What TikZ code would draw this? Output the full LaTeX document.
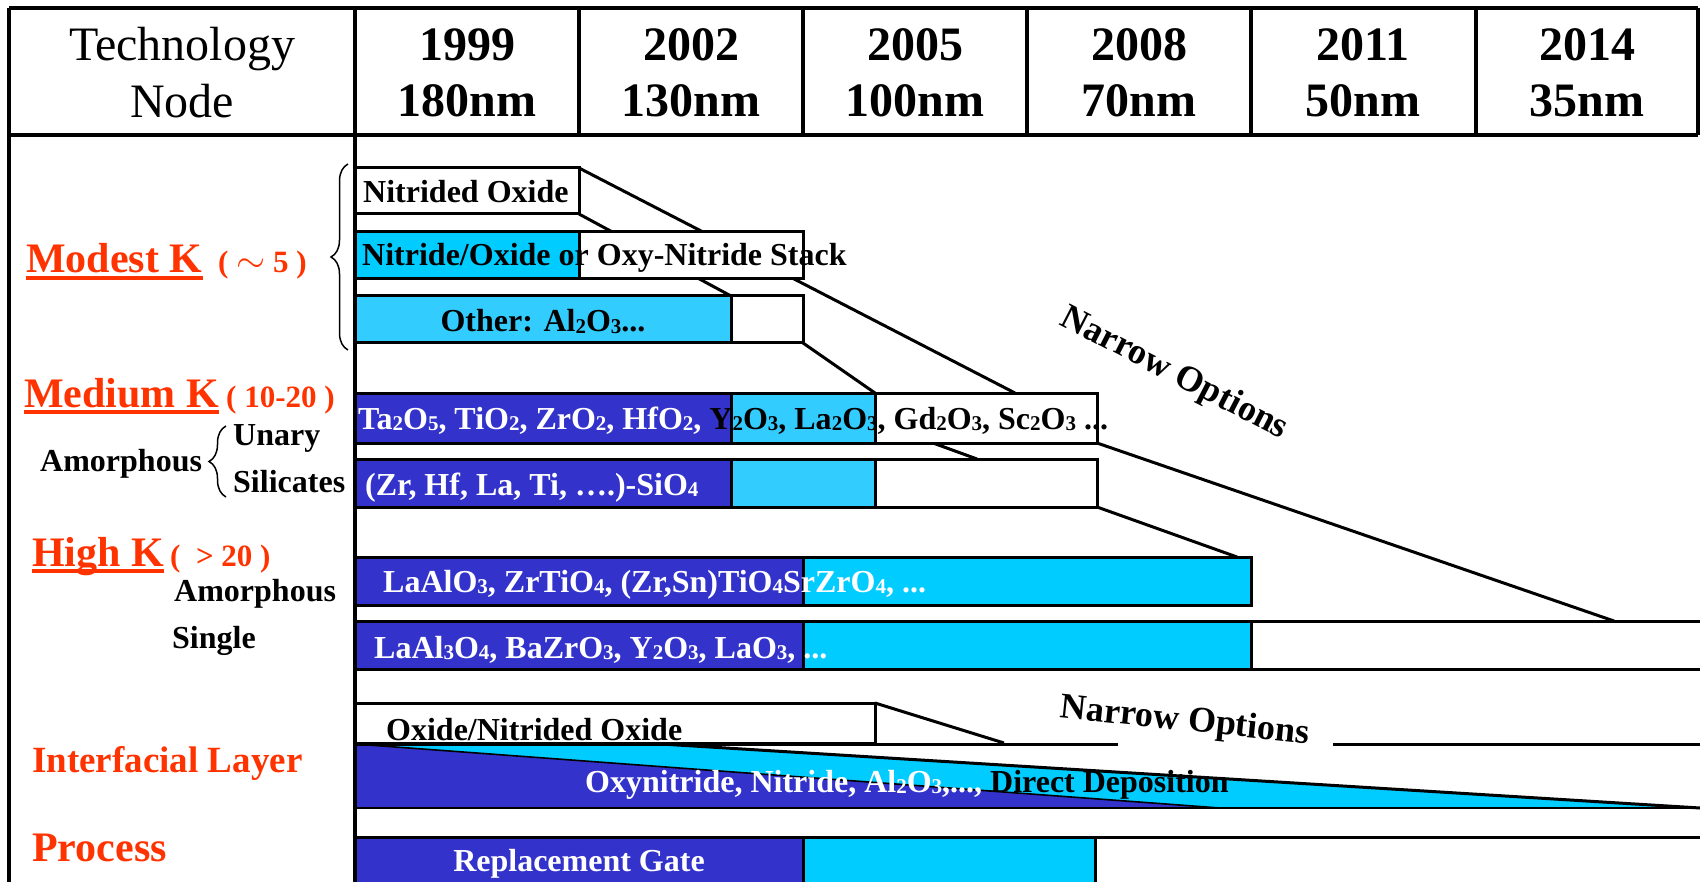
\documentclass[tikz,border=0pt]{standalone}
\usepackage{fontspec}
\setmainfont{Liberation Serif}
\usetikzlibrary{decorations.pathreplacing}
\definecolor{ebl}{RGB}{51,51,204}
\definecolor{ecy}{RGB}{0,204,255}
\definecolor{lcy}{RGB}{51,204,255}
\definecolor{ered}{RGB}{255,51,0}
\newcommand{\fsz}[1]{\fontsize{#1}{#1}\selectfont}
\newcommand{\chs}[1]{\raisebox{-0.06em}{\fontsize{21}{21}\selectfont #1}}
\begin{document}
\begin{tikzpicture}[x=1pt,y=-1pt,
  tl/.style={line width=3.4pt},
  bx/.style={draw=black, line width=3pt},
  fl/.style={line width=3pt},
  hd/.style={inner sep=0pt, anchor=base, font={\fsz{48}}},
  yr/.style={inner sep=0pt, anchor=base, font={\fsz{48}\bfseries}},
  rt/.style={inner sep=0pt, anchor=base west, font={\fsz{32}\bfseries}},
  wt/.style={rt, text=white},
  lbl/.style={inner sep=0pt, anchor=base west, font={\fsz{42}\bfseries}, text=ered},
  prn/.style={inner sep=0pt, anchor=base west, font={\fsz{31}\bfseries}, text=ered},
  nar/.style={inner sep=0pt, font={\fsz{36}\bfseries}},
  ul/.style={ered, line width=4pt},
  brc/.style={line width=1.5pt, decorate, decoration={brace, amplitude=17pt}}]
\useasboundingbox (0,0) rectangle (1700,882);
\fill[white] (0,0) rectangle (1700,882);

% funnel lines (behind boxes)
\draw[fl] (579,168) -- (1015,393);
\draw[fl] (579,214) -- (731,296);
\draw[fl] (803,343) -- (875,393);
\draw[fl] (933,443) -- (977,459);
\draw[fl] (1097,443) -- (1614,621);
\draw[fl] (1097,507) -- (1237,557);
\draw[fl] (875,703) -- (1004,743);

% Modest K rows
\filldraw[bx, fill=white] (355,168) rectangle (579,214);
\filldraw[bx, fill=ecy] (355,232) rectangle (579,279);
\filldraw[bx, fill=white] (579,232) rectangle (803,279);
\filldraw[bx, fill=lcy] (355,296) rectangle (731,343);
\filldraw[bx, fill=white] (731,296) rectangle (803,343);
% Medium K rows
\filldraw[bx, fill=ebl] (355,394) rectangle (731,443);
\filldraw[bx, fill=lcy] (731,394) rectangle (875,443);
\filldraw[bx, fill=white] (875,394) rectangle (1097,443);
\filldraw[bx, fill=ebl] (355,459) rectangle (731,507);
\filldraw[bx, fill=lcy] (731,459) rectangle (875,507);
\filldraw[bx, fill=white] (875,459) rectangle (1097,507);
% High K rows
\filldraw[bx, fill=ebl] (355,557) rectangle (803,605);
\filldraw[bx, fill=ecy] (803,557) rectangle (1251,605);
\filldraw[bx, fill=ebl] (355,621) rectangle (803,669);
\filldraw[bx, fill=ecy] (803,621) rectangle (1251,669);
\filldraw[bx, fill=white] (1251,621) rectangle (1712,669);
% Interfacial layer
\filldraw[bx, fill=white] (355,703) rectangle (875,743);
\fill[ecy] (355,744) -- (661,744) -- (1700,808) -- (1220,808) -- cycle;
\fill[ebl] (355,744) -- (1220,808) -- (355,808) -- cycle;
\draw[line width=1.6pt] (355,744) -- (1220,808);
\draw[line width=3pt] (661,744) -- (1700,808);
\draw[line width=1.6pt] (355,808) -- (1700,808);
\draw[line width=3pt] (355,744) -- (1118,744);
\draw[line width=3pt] (1333,744) -- (1700,744);
% Process
\draw[line width=3pt] (355,837) -- (1700,837);
\filldraw[bx, fill=ebl] (355,837) rectangle (803,895);
\filldraw[bx, fill=ecy] (803,837) rectangle (1095,895);

% table frame
\draw[tl] (9,8) -- (1698,8);
\draw[tl] (9,8) -- (9,890);
\draw[tl] (355,8) -- (355,890);
\draw[tl] (9,135) -- (1698,135);
\draw[tl] (1698,8) -- (1698,135);
\foreach \xx in {579,803,1027,1251,1476} {\draw[tl] (\xx,8) -- (\xx,135);}

% header text
\node[hd] (tech) at (182,61) {Technology};
\node[hd] (node) at (182,118) {Node};
\node[yr] (y1) at (467,61) {1999};     \node[yr] (n1) at (467,117) {180nm};
\node[yr] (y2) at (691,61) {2002};     \node[yr] (n2) at (691,117) {130nm};
\node[yr] (y3) at (915,61) {2005};     \node[yr] (n3) at (915,117) {100nm};
\node[yr] (y4) at (1139,61) {2008};    \node[yr] (n4) at (1139,117) {70nm};
\node[yr] (y5) at (1363,61) {2011};    \node[yr] (n5) at (1363,117) {50nm};
\node[yr] (y6) at (1587,61) {2014};    \node[yr] (n6) at (1587,117) {35nm};

% braces
\draw[brc] (348,350) -- (348,164);
\draw[brc] (226,497) -- (226,426);

% left labels
\node[lbl] (mk) at (26,273) {Modest K};
\draw[ul] ([yshift=-5pt]mk.base west) -- ([yshift=-5pt]mk.base east);
\node[prn] (mkv) at (218,273) {( \scalebox{1.5}{$\sim$} 5 )};
\node[lbl] (mdk) at (24,407) {Medium K};
\draw[ul] ([yshift=-5pt]mdk.base west) -- ([yshift=-5pt]mdk.base east);
\node[prn] (mdkv) at (226,407) {( 10-20 )};
\node[rt] (am1) at (40,471) {Amorphous};
\node[rt] (un) at (233,446) {Unary};
\node[rt] (si) at (233,492) {Silicates};
\node[lbl] (hk) at (32,566) {High K};
\draw[ul] ([yshift=-5pt]hk.base west) -- ([yshift=-5pt]hk.base east);
\node[prn] (hkv) at (170,566) {(\ \ > 20 )};
\node[rt] (am2) at (174,601) {Amorphous};
\node[rt] (sg) at (172,648) {Single};
\node[lbl, font={\fsz{37}\bfseries}] (il) at (32,772) {Interfacial Layer};
\node[lbl] (pr) at (32,861) {Process};

% row texts
\node[rt] (r1) at (363,203) {Nitrided Oxide};
\node[rt] (r2) at (362,266) {Nitride/Oxide or Oxy-Nitride Stack};
\node[rt, anchor=base] (r3) at (543,332) {Other: Al\chs2O\chs3...};
\node[rt] (r4) at (358,429) {\textcolor{white}{Ta\chs2O\chs5, TiO\chs2, ZrO\chs2, HfO\chs2, }Y\chs2O\chs3, La\chs2O\chs3, Gd\chs2O\chs3, Sc\chs2O\chs3 ...};
\node[wt] (r5) at (365,495) {(Zr, Hf, La, Ti, ….)-SiO\chs4};
\node[wt] (r6) at (383,592) {LaAlO\chs3, ZrTiO\chs4, (Zr,Sn)TiO\chs4SrZrO\chs4, ...};
\node[wt] (r7) at (374,658) {LaAl\chs3O\chs4, BaZrO\chs3, Y\chs2O\chs3, LaO\chs3, ...};
\node[rt] (r8) at (386,740) {Oxide/Nitrided Oxide};
\node[rt] (r9) at (585,792) {\textcolor{white}{Oxynitride, Nitride, Al\chs2O\chs3,..., }Direct Deposition};
\node[wt, anchor=base] (r10) at (579,871) {Replacement Gate};

% narrow options
\node[nar, rotate=-27.3] (no1) at (1174,374) {Narrow Options};
\node[nar, rotate=-6] (no2) at (1185,722) {Narrow Options};
\end{tikzpicture}
\end{document}
